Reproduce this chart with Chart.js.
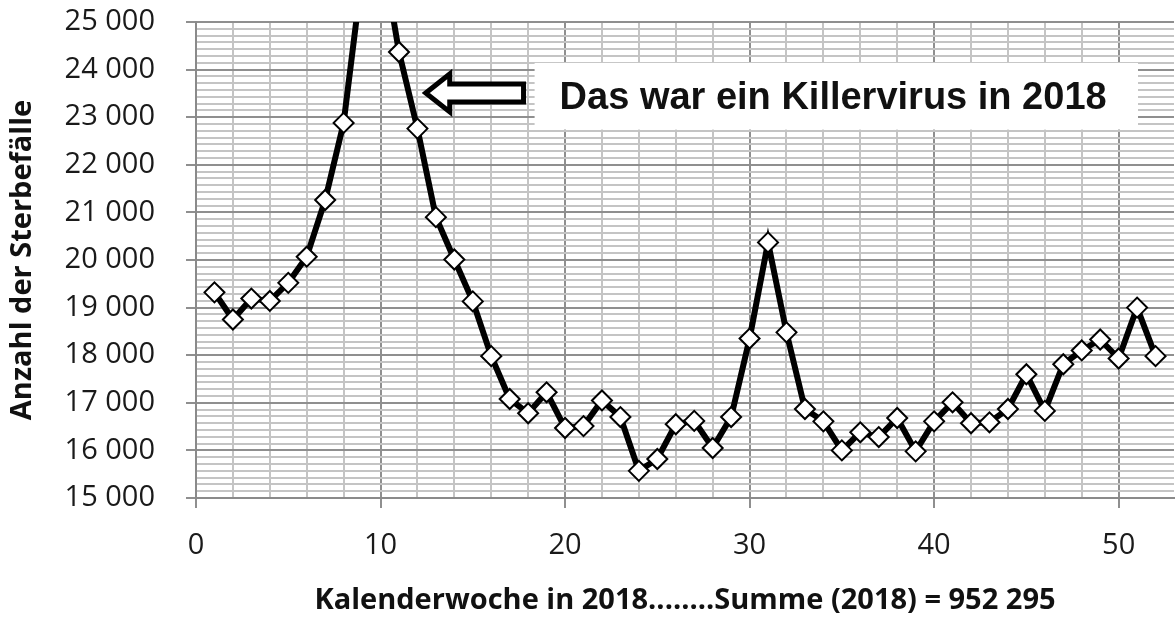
<!DOCTYPE html>
<html>
<head>
<meta charset="utf-8">
<script src="https://cdn.jsdelivr.net/npm/chart.js@4.4.1/dist/chart.umd.min.js"></script>
<style>
  html, body { margin: 0; padding: 0; background: #fff; }
  #wrap { width: 1176px; height: 619px; }
</style>
</head>
<body>
<div id="wrap"><canvas id="deaths"></canvas></div>
<script>
// Sterbefälle je Kalenderwoche 2018
const weeks = [1, 2, 3, 4, 5, 6, 7, 8, 9, 10, 11, 12, 13, 14, 15, 16, 17, 18, 19, 20, 21, 22, 23, 24, 25, 26,
  27, 28, 29, 30, 31, 32, 33, 34, 35, 36, 37, 38, 39, 40, 41, 42, 43, 44, 45, 46, 47, 48, 49, 50, 51, 52];
const deaths = [19320, 18750, 19190, 19140, 19520, 20070, 21260, 22880, 26000, 26660, 24370, 22760, 20900,
  20010, 19130, 17980, 17080, 16780, 17220, 16470, 16510, 17050, 16700, 15570, 15820, 16550,
  16620, 16050, 16700, 18350, 20370, 18480, 16870, 16610, 16000, 16380, 16280, 16680, 15980,
  16610, 17010, 16570, 16590, 16870, 17600, 16830, 17810, 18100, 18330, 17930, 19000, 17980];

const xTickValues = [0, 10, 20, 30, 40, 50];
const xTickLabels = ['0', '10', '20', '30', '40', '50'];
const yTickValues = [15000, 16000, 17000, 18000, 19000, 20000, 21000, 22000, 23000, 24000, 25000];
const yTickLabels = ['15 000', '16 000', '17 000', '18 000', '19 000', '20 000', '21 000', '22 000',
  '23 000', '24 000', '25 000'];

const xTitle = 'Kalenderwoche in 2018........Summe (2018) = 952 295';
const yTitle = 'Anzahl der Sterbefälle';
const calloutText = 'Das war ein Killervirus in 2018';

// callout placement in data units
const calloutBox = { xMin: 18.35, xMax: 51.05, yMin: 22740, yMax: 24140 };
const calloutArrow = { tipX: 12.45, tailX: 17.75, y: 23510 };

const labelFont = '"Open Sans", "DejaVu Sans", sans-serif';

function labelFor(values, labels, v) {
  const i = values.findIndex(t => Math.abs(t - v) < 1e-6);
  return i < 0 ? '' : labels[i];
}

function isMajor(values, v) {
  return values.some(t => Math.abs(t - v) < 1e-6);
}

const calloutPlugin = {
  id: 'callout',
  afterDatasetsDraw(chart) {
    const { ctx, scales: { x, y } } = chart;
    const left = x.getPixelForValue(calloutBox.xMin);
    const right = x.getPixelForValue(calloutBox.xMax);
    const top = y.getPixelForValue(calloutBox.yMax);
    const bottom = y.getPixelForValue(calloutBox.yMin);

    ctx.save();
    ctx.fillStyle = '#fff';
    ctx.fillRect(left, top, right - left, bottom - top);

    ctx.font = 'bold 38px "Liberation Sans", Arial, sans-serif';
    ctx.fillStyle = '#111';
    ctx.textBaseline = 'alphabetic';
    ctx.fillText(calloutText, left + 25, top + 46);

    // hollow arrow pointing at the peak
    const tip = x.getPixelForValue(calloutArrow.tipX);
    const tail = x.getPixelForValue(calloutArrow.tailX);
    const ay = y.getPixelForValue(calloutArrow.y);
    const headLen = 24, headHalf = 19, shaftHalf = 9;
    ctx.beginPath();
    ctx.moveTo(tip, ay);
    ctx.lineTo(tip + headLen, ay - headHalf);
    ctx.lineTo(tip + headLen, ay - shaftHalf);
    ctx.lineTo(tail, ay - shaftHalf);
    ctx.lineTo(tail, ay + shaftHalf);
    ctx.lineTo(tip + headLen, ay + shaftHalf);
    ctx.lineTo(tip + headLen, ay + headHalf);
    ctx.closePath();
    ctx.fillStyle = '#fff';
    ctx.fill();
    ctx.lineWidth = 5;
    ctx.lineJoin = 'miter';
    ctx.strokeStyle = '#000';
    ctx.stroke();
    ctx.restore();
  }
};

new Chart(document.getElementById('deaths'), {
  type: 'line',
  data: {
    labels: weeks,
    datasets: [{
      data: weeks.map((w, i) => ({ x: w, y: deaths[i] })),
      borderColor: '#000',
      borderWidth: 6,
      tension: 0,
      clip: 0,
      pointStyle: 'rectRot',
      pointRadius: 10,
      pointBorderWidth: 2,
      pointBackgroundColor: '#fff',
      pointBorderColor: '#000'
    }]
  },
  options: {
    responsive: true,
    maintainAspectRatio: false,
    animation: false,
    layout: { autoPadding: false, padding: { left: 0, right: 2, top: 22, bottom: 0 } },
    plugins: {
      legend: { display: false },
      tooltip: { enabled: false }
    },
    scales: {
      x: {
        type: 'linear',
        min: 0,
        max: 53,
        afterFit(s) {
          s.height = 121;
          s.paddingLeft = 0;
          s.paddingRight = 0;
        },
        ticks: {
          stepSize: 2,
          autoSkip: false,
          maxRotation: 0,
          padding: 20,
          color: '#1a1a1a',
          font: { family: labelFont, size: 29 },
          callback: v => labelFor(xTickValues, xTickLabels, v)
        },
        grid: {
          color: c => isMajor(xTickValues, c.tick.value) ? '#8f8f8f' : (c.tick.value % 2 === 0 ? '#c4c4c4' : 'rgba(0,0,0,0)'),
          lineWidth: 2,
          tickLength: 10,
          tickColor: c => isMajor(xTickValues, c.tick.value) ? '#8f8f8f' : 'rgba(0,0,0,0)'
        },
        border: { color: '#8a8a8a', width: 2 },
        title: {
          display: true,
          text: xTitle,
          color: '#111',
          font: { family: labelFont, size: 29, weight: 'bold' },
          padding: { top: 0, bottom: 1 }
        }
      },
      y: {
        min: 15000,
        max: 25000,
        afterFit(s) {
          s.width = 196;
          s.paddingTop = 0;
          s.paddingBottom = 0;
        },
        ticks: {
          stepSize: 1000 / 7,
          autoSkip: false,
          padding: 31,
          color: '#1a1a1a',
          font: { family: labelFont, size: 29 },
          callback: v => labelFor(yTickValues, yTickLabels, v)
        },
        grid: {
          color: c => isMajor(yTickValues, c.tick.value) ? '#8f8f8f' : '#c4c4c4',
          lineWidth: 2,
          tickLength: 10,
          tickColor: c => isMajor(yTickValues, c.tick.value) ? '#8f8f8f' : 'rgba(0,0,0,0)'
        },
        border: { color: '#8a8a8a', width: 2 },
        title: {
          display: true,
          text: yTitle,
          color: '#111',
          font: { family: labelFont, size: 29, weight: 'bold' },
          padding: { top: 5, bottom: 0 }
        }
      }
    }
  },
  plugins: [calloutPlugin]
});
</script>
</body>
</html>
